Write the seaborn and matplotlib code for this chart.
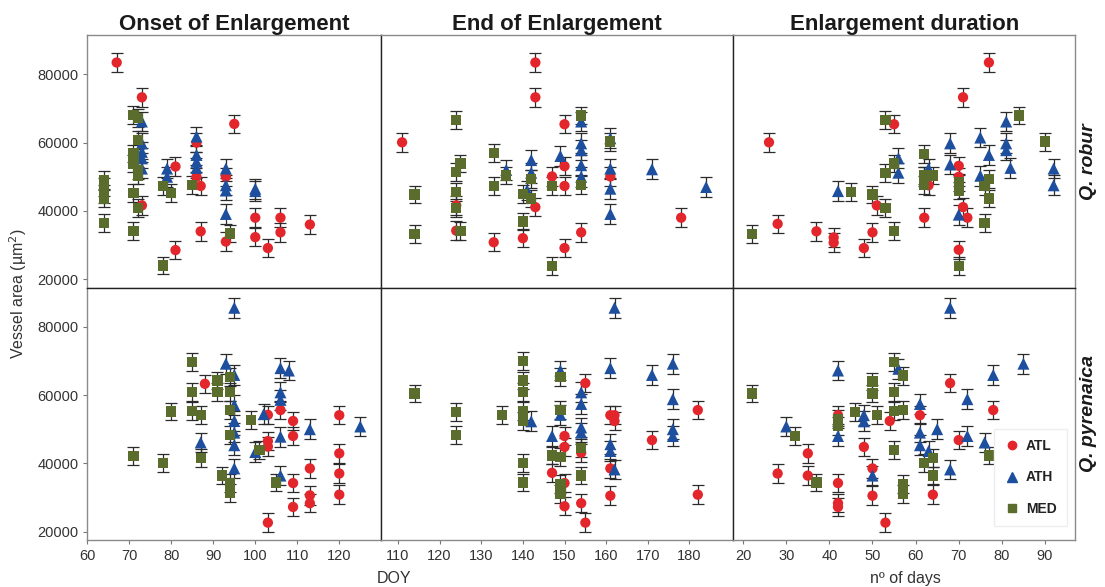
import pandas as pd
import seaborn as sns
import matplotlib.pyplot as plt

# --- Q. robur, onset of enlargement (DOY)
rob_on_atl_x = [67, 73, 95, 81, 86, 86, 87, 93, 73, 87, 81, 93, 100, 100, 103, 106, 106, 113]
rob_on_atl_y = [83500, 73300, 65500, 53000, 60000, 50000, 47300, 50000, 41600, 34000, 28500, 31000, 38000, 32300, 29100, 38000, 33700, 36000]
rob_on_ath_x = [73, 73, 73, 73, 73, 79, 79, 86, 86, 86, 86, 93, 93, 93, 93, 100, 100]
rob_on_ath_y = [66200, 59800, 57300, 55400, 52400, 52400, 50000, 61800, 56400, 54400, 52600, 52400, 47500, 46000, 39100, 46500, 45800]
rob_on_med_x = [64, 64, 64, 64, 64, 71, 71, 71, 71, 71, 72, 72, 72, 72, 72, 78, 78, 80, 85, 94]
rob_on_med_y = [49000, 47000, 45000, 43600, 36500, 68200, 56800, 53900, 45300, 34200, 67200, 60800, 51900, 50400, 40800, 24000, 47300, 45300, 47500, 33400]

# --- Q. robur, end of enlargement (DOY)
rob_end_atl_x = [111, 143, 143, 150, 124, 124, 133, 140, 147, 150, 150, 143, 150, 154, 161, 178]
rob_end_atl_y = [60100, 83500, 73300, 65400, 41600, 34200, 30800, 32000, 50100, 53100, 47300, 41100, 29100, 33700, 50100, 38000]
rob_end_ath_x = [136, 142, 142, 149, 154, 154, 154, 154, 154, 161, 161, 161, 161, 141, 171, 184]
rob_end_ath_y = [52000, 54900, 51200, 56100, 66200, 59800, 57800, 53400, 50000, 61300, 52400, 46500, 39100, 46000, 52200, 47000]
rob_end_med_x = [114, 114, 124, 125, 124, 124, 124, 125, 133, 133, 136, 140, 140, 142, 142, 147, 147, 154, 154, 161]
rob_end_med_y = [44800, 33200, 66700, 53900, 51400, 45500, 40900, 34200, 56900, 47300, 50400, 45000, 36900, 49300, 43600, 47300, 23900, 68000, 47500, 60300]

# --- Q. robur, enlargement duration (days)
rob_dur_atl_x = [26, 28, 37, 41, 41, 48, 50, 51, 55, 62, 63, 62, 70, 70, 71, 71, 72, 70, 77]
rob_dur_atl_y = [60100, 36200, 34000, 32200, 30700, 29100, 33700, 41600, 65400, 50100, 47500, 38000, 53200, 50000, 73300, 41100, 38000, 28600, 83500]
rob_dur_ath_x = [42, 56, 56, 63, 68, 68, 70, 75, 77, 75, 81, 81, 81, 82, 92, 92]
rob_dur_ath_y = [45800, 55400, 51200, 52400, 59800, 53600, 38900, 61500, 56400, 50300, 66200, 59800, 57800, 52600, 52400, 47500]
rob_dur_med_x = [22, 45, 50, 53, 53, 53, 55, 55, 62, 62, 62, 64, 70, 70, 70, 76, 77, 77, 76, 84, 90]
rob_dur_med_y = [33200, 45500, 44800, 51200, 66700, 40900, 53900, 34200, 56600, 47500, 50400, 50400, 48300, 46000, 23900, 47300, 49300, 43600, 36400, 68000, 60300]

# --- Q. pyrenaica, onset
pyr_on_atl_x = [88, 103, 106, 109, 109, 103, 103, 120, 120, 113, 109, 120, 113, 113, 109, 120, 103]
pyr_on_atl_y = [63300, 54200, 55600, 52400, 48000, 46500, 44900, 54100, 42900, 38500, 34200, 37000, 30600, 28300, 27200, 30800, 22600]
pyr_on_ath_x = [95, 93, 95, 95, 95, 95, 95, 95, 87, 100, 102, 106, 108, 106, 106, 106, 106, 113, 125]
pyr_on_ath_y = [85600, 69200, 65900, 57100, 52400, 49000, 45300, 38500, 46100, 43300, 54400, 67900, 67200, 60800, 58600, 47800, 36400, 50000, 50800]
pyr_on_med_x = [71, 78, 80, 85, 85, 85, 87, 87, 91, 91, 94, 94, 94, 94, 92, 94, 94, 99, 101, 105]
pyr_on_med_y = [42100, 40100, 55200, 69700, 60800, 55400, 54100, 41600, 64300, 60800, 65400, 60800, 55700, 48200, 36400, 34200, 31300, 52700, 43900, 34400]

# --- Q. pyrenaica, end
pyr_end_atl_x = [147, 150, 150, 150, 150, 155, 154, 154, 155, 161, 162, 162, 161, 161, 171, 182, 182]
pyr_end_atl_y = [37200, 48000, 44800, 34200, 27400, 63500, 43100, 28300, 22600, 54100, 54100, 52400, 38500, 30500, 46800, 55600, 30800]
pyr_end_ath_x = [142, 147, 149, 149, 154, 154, 154, 154, 162, 161, 161, 161, 162, 171, 176, 176, 176, 176]
pyr_end_ath_y = [52300, 48000, 67200, 54200, 60800, 57400, 50500, 49000, 85600, 67900, 45600, 43600, 38200, 65900, 69200, 58800, 50000, 48000]
pyr_end_med_x = [114, 124, 124, 135, 140, 140, 140, 140, 140, 140, 140, 149, 149, 147, 149, 149, 149, 154, 154]
pyr_end_med_y = [60500, 55100, 48300, 54100, 69900, 64300, 60800, 55400, 52400, 40100, 34400, 65400, 55600, 42300, 41800, 34000, 31100, 44400, 36400]

# --- Q. pyrenaica, duration
pyr_dur_atl_x = [28, 35, 35, 42, 42, 42, 42, 48, 50, 50, 54, 53, 61, 64, 68, 70, 78]
pyr_dur_atl_y = [37000, 42900, 36400, 34200, 28300, 27200, 54100, 44800, 38500, 30500, 52400, 22600, 54100, 30800, 63500, 46800, 55600]
pyr_dur_ath_x = [30, 42, 42, 48, 48, 50, 56, 61, 61, 61, 63, 65, 68, 68, 72, 72, 76, 78, 85]
pyr_dur_ath_y = [50800, 67200, 48000, 54100, 52300, 36400, 67700, 57400, 49000, 45300, 43600, 50000, 85600, 38200, 58800, 48000, 46100, 65900, 69200]
pyr_dur_med_x = [22, 32, 37, 42, 42, 46, 50, 50, 51, 55, 55, 55, 55, 57, 57, 57, 57, 62, 64, 64, 77]
pyr_dur_med_y = [60500, 48000, 34400, 52900, 51000, 55100, 64000, 60500, 54100, 43900, 69700, 60800, 55400, 65700, 55600, 34000, 31100, 40100, 41600, 36400, 42300]

# approximate half-width of the error bars (vessel area, um2)
err_half = {'ATL': 2700, 'ATH': 2900, 'MED': 2600}

regions = ['ATL', 'ATH', 'MED']
col_titles = ['Onset of Enlargement', 'End of Enlargement', 'Enlargement duration']
row_titles = ['Q. robur', 'Q. pyrenaica']

panels = {
    (0, 0): [(rob_on_atl_x, rob_on_atl_y), (rob_on_ath_x, rob_on_ath_y), (rob_on_med_x, rob_on_med_y)],
    (0, 1): [(rob_end_atl_x, rob_end_atl_y), (rob_end_ath_x, rob_end_ath_y), (rob_end_med_x, rob_end_med_y)],
    (0, 2): [(rob_dur_atl_x, rob_dur_atl_y), (rob_dur_ath_x, rob_dur_ath_y), (rob_dur_med_x, rob_dur_med_y)],
    (1, 0): [(pyr_on_atl_x, pyr_on_atl_y), (pyr_on_ath_x, pyr_on_ath_y), (pyr_on_med_x, pyr_on_med_y)],
    (1, 1): [(pyr_end_atl_x, pyr_end_atl_y), (pyr_end_ath_x, pyr_end_ath_y), (pyr_end_med_x, pyr_end_med_y)],
    (1, 2): [(pyr_dur_atl_x, pyr_dur_atl_y), (pyr_dur_ath_x, pyr_dur_ath_y), (pyr_dur_med_x, pyr_dur_med_y)],
}

# long table for seaborn
rows = []
for (r, c), series in panels.items():
    for reg, (xs, ys) in zip(regions, series):
        for x, y in zip(xs, ys):
            rows.append({'row': r, 'col': c, 'region': reg, 'x': x, 'y': y})
df = pd.DataFrame(rows)

sns.set_theme(style='white')
plt.rcParams['font.family'] = ['Liberation Sans', 'DejaVu Sans']

palette = {'ATL': '#e3262b', 'ATH': '#1d4f9e', 'MED': '#5b6d2c'}
markers = {'ATL': 'o', 'ATH': '^', 'MED': 's'}
sizes = {'ATL': 55, 'ATH': 75, 'MED': 55}

fig, axes = plt.subplots(2, 3, figsize=(11.05, 5.87), dpi=100, sharey=True,
                         gridspec_kw={'width_ratios': [294, 352, 342], 'wspace': 0, 'hspace': 0})
fig.subplots_adjust(left=0.079, right=0.973, top=0.940, bottom=0.080)

xlims = [(60, 130), (106, 190.5), (17.7, 97)]
xticks = [range(60, 130, 10), range(110, 190, 10), range(20, 100, 10)]

for r in range(2):
    for c in range(3):
        ax = axes[r, c]
        sub = df[(df['row'] == r) & (df['col'] == c)]
        for reg in regions:
            d = sub[sub['region'] == reg]
            ax.errorbar(d['x'], d['y'], yerr=err_half[reg], fmt='none', ecolor='#2b2b2b',
                        elinewidth=0.9, capsize=4, capthick=0.9, zorder=2)
            sns.scatterplot(data=d, x='x', y='y', ax=ax, color=palette[reg], marker=markers[reg],
                            s=sizes[reg], edgecolor='none', linewidth=0, zorder=3, legend=False)
        ax.set_xlim(*xlims[c])
        ax.set_ylim(17500, 91500)
        ax.set_xticks(list(xticks[c]))
        ax.set_yticks([20000, 40000, 60000, 80000])
        ax.set_xlabel('')
        ax.set_ylabel('')
        ax.tick_params(axis='both', length=3, width=0.8, color='#777777', labelsize=10.5,
                       labelcolor='#333333', direction='out', bottom=(r == 1), left=(c == 0),
                       labelbottom=(r == 1), labelleft=(c == 0))
        for sp in ax.spines.values():
            sp.set_color('#8a8a8a')
            sp.set_linewidth(1.0)
        if c > 0:
            ax.spines['left'].set_color('#222222')
        if r == 1:
            ax.spines['top'].set_color('#222222')
        if r == 0:
            ax.set_title(col_titles[c], fontsize=16, fontweight='bold', color='#1a1a1a', pad=4)
        if c == 2:
            ax.text(1.04, 0.5, row_titles[r], transform=ax.transAxes, rotation=90,
                    ha='center', va='center', fontsize=14, fontweight='bold', fontstyle='italic',
                    color='#1a1a1a')

leg_ax = axes[1, 2]
handles = [plt.Line2D([], [], marker=markers[k], color=palette[k], linestyle='none',
                      markersize=7 if k == 'ATH' else 6) for k in regions]
leg = leg_ax.legend(handles, regions, loc='lower right', bbox_to_anchor=(0.995, 0.03), frameon=True,
                    fontsize=10, labelspacing=1.25, handletextpad=0.4, handlelength=1.2,
                    borderpad=0.7, fancybox=False, edgecolor='#eeeeee', framealpha=1)
for t in leg.get_texts():
    t.set_fontweight('bold')
    t.set_color('#222222')

fig.text(0.0165, 0.50, 'Vessel area (µm$^2$)', rotation=90, ha='center', va='center',
         fontsize=11.5, color='#333333')
fig.text(0.357, 0.015, 'DOY', ha='center', va='center', fontsize=11.5, color='#333333')
fig.text(0.819, 0.015, 'nº of days', ha='center', va='center', fontsize=11.5, color='#333333')

fig.savefig('out.png', dpi=100)
